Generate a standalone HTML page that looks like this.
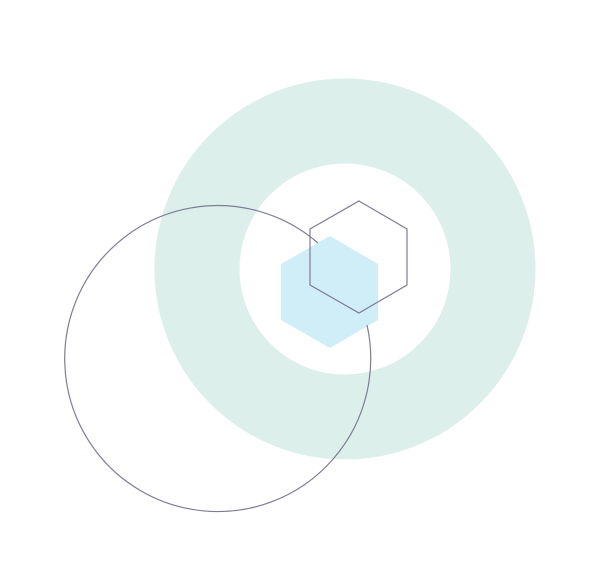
<!DOCTYPE html>
<html><head><meta charset="utf-8"><style>html,body{margin:0;padding:0;background:#fff}svg{display:block}</style></head>
<body>
<svg width="615" height="577" viewBox="0 0 615 577" xmlns="http://www.w3.org/2000/svg">
<circle cx="345" cy="269" r="148" fill="none" stroke="#dcefea" stroke-width="85"/>
<polygon points="330,236 378,264 378,320 330,348 281,320 281,264" fill="#cfeef8"/>
<path d="M367,325 A153,153 0 1 1 318,243" fill="none" stroke="#7d7d95" stroke-width="1.2"/>
<polygon points="359,201 407,229 407,285 359,313 310,285 310,229" fill="none" stroke="#7d7d95" stroke-width="1.2"/>
</svg>
</body></html>
